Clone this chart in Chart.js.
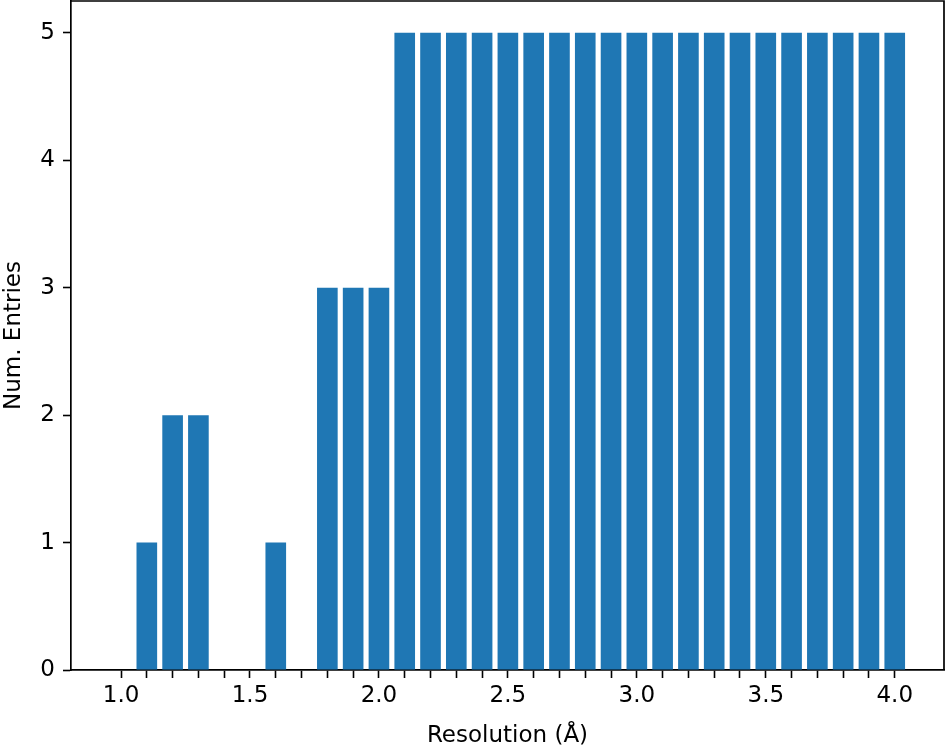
<!DOCTYPE html>
<html>
<head>
<meta charset="utf-8">
<script src="https://cdn.jsdelivr.net/npm/chart.js@4/dist/chart.umd.min.js"></script>
<style>
  html, body { margin: 0; padding: 0; background: #ffffff; }
  #wrap { width: 951px; height: 748px; }
</style>
</head>
<body>
<div id="wrap"><canvas id="c" width="951" height="748"></canvas></div>
<script>
// ---- data ----
const resolutions = [1.0, 1.1, 1.2, 1.3, 1.4, 1.5, 1.6, 1.7, 1.8, 1.9, 2.0,
                     2.1, 2.2, 2.3, 2.4, 2.5, 2.6, 2.7, 2.8, 2.9, 3.0,
                     3.1, 3.2, 3.3, 3.4, 3.5, 3.6, 3.7, 3.8, 3.9, 4.0];
const numEntries = [0, 1, 2, 2, 0, 0, 1, 0, 3, 3, 3,
                    5, 5, 5, 5, 5, 5, 5, 5, 5, 5,
                    5, 5, 5, 5, 5, 5, 5, 5, 5, 5];
const xTickLabels = ['1.0', '1.5', '2.0', '2.5', '3.0', '3.5', '4.0'];
const yTickLabels = ['0', '1', '2', '3', '4', '5'];
const xAxisTitle = 'Resolution (Å)';
const yAxisTitle = 'Num. Entries';

const points = resolutions.map((r, i) => ({ x: r, y: numEntries[i] }));

const FONT = 'DejaVu Sans';
const spines = {
  id: 'spines',
  afterDraw(chart) {
    const { ctx, chartArea: a } = chart;
    ctx.save();
    ctx.strokeStyle = '#000';
    ctx.lineWidth = 1.7;
    ctx.beginPath();
    ctx.moveTo(a.left, a.top);
    ctx.lineTo(a.right, a.top);
    ctx.lineTo(a.right, a.bottom);
    ctx.stroke();
    ctx.restore();
  }
};

new Chart(document.getElementById('c'), {
  type: 'bar',
  data: {
    datasets: [{
      data: points,
      backgroundColor: '#1f77b4',
      borderWidth: 0,
      categoryPercentage: 1.0,
      barPercentage: 0.8
    }]
  },
  options: {
    responsive: false,
    animation: false,
    devicePixelRatio: 1,
    layout: { padding: { top: 1, right: 7, left: 0, bottom: 0 } },
    plugins: { legend: { display: false }, tooltip: { enabled: false } },
    scales: {
      x: {
        type: 'linear',
        min: 0.806,
        max: 4.191,
        offset: false,
        afterFit(scale) { scale.height = 78; scale.paddingLeft = 0; scale.paddingRight = 0; scale.paddingTop = 0; scale.paddingBottom = 0; },
        afterBuildTicks(scale) { scale.ticks = resolutions.map(v => ({ value: v })); },
        grid: { display: true, drawOnChartArea: false, drawTicks: true, tickLength: 8, tickWidth: 1.6, tickColor: '#000', offset: false },
        border: { display: true, color: '#000', width: 1.7 },
        ticks: {
          autoSkip: false, maxRotation: 0, minRotation: 0, padding: 4, color: '#000',
          font: { family: FONT, size: 23 },
          callback(v) { const s = Number(v).toFixed(1); return xTickLabels.includes(s) ? s : ''; }
        },
        title: { display: true, text: xAxisTitle, color: '#000', font: { family: FONT, size: 23, lineHeight: 1 }, padding: { top: 0, bottom: 0 } }
      },
      y: {
        min: 0,
        max: 5.25,
        afterFit(scale) { scale.width = 71; scale.paddingTop = 0; scale.paddingBottom = 0; scale.paddingLeft = 0; scale.paddingRight = 0; },
        grid: { display: true, drawOnChartArea: false, drawTicks: true, tickLength: 8, tickWidth: 1.6, tickColor: '#000' },
        border: { display: true, color: '#000', width: 1.7 },
        ticks: {
          stepSize: 1, includeBounds: false, padding: 8, color: '#000',
          font: { family: FONT, size: 23 },
          callback(v) { const s = String(Math.round(v)); return yTickLabels.includes(s) ? s : ''; }
        },
        title: { display: true, text: yAxisTitle, color: '#000', font: { family: FONT, size: 23, lineHeight: 1 }, padding: { top: 3, bottom: 0 } }
      }
    }
  },
  plugins: [spines]
});
</script>
</body>
</html>
